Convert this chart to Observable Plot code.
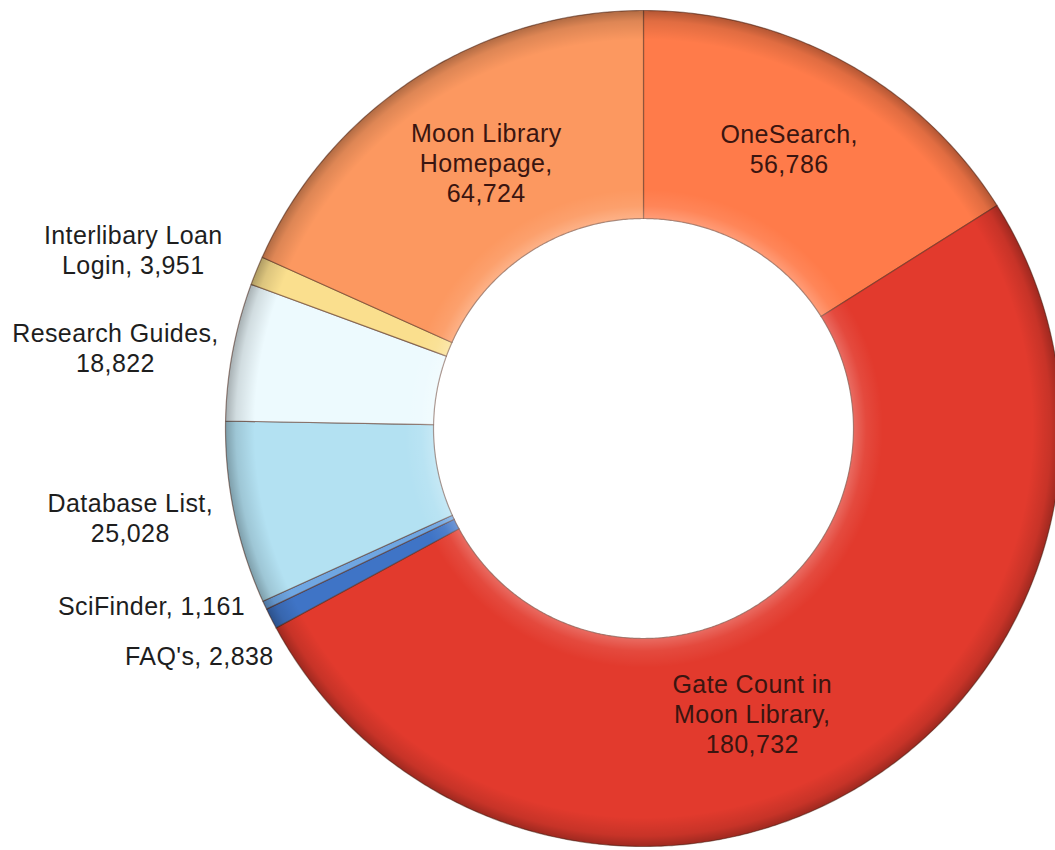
<!DOCTYPE html>
<html>
<head>
<meta charset="utf-8">
<script src="https://cdn.jsdelivr.net/npm/d3@7"></script>
<script src="https://cdn.jsdelivr.net/npm/@observablehq/plot@0.6"></script>
<style>
  html, body { margin: 0; padding: 0; background: #fff; overflow: hidden; }
  #chart svg { display: block; }
  #chart svg text { letter-spacing: 0.4px; }
</style>
</head>
<body>
<div id="chart"></div>
<script>
// ---- data (clockwise from 12 o'clock) ----
const names = ["OneSearch", "Gate Count in Moon Library", "FAQ's", "SciFinder", "Database List", "Research Guides", "Interlibary Loan Login", "Moon Library Homepage"];
const values = [56786, 180732, 2838, 1161, 25028, 18822, 3951, 64724];
const labelNames = ["OneSearch", "Gate Count in\nMoon Library", "FAQ's", "SciFinder", "Database List", "Research Guides", "Interlibary Loan\nLogin", "Moon Library\nHomepage"];
const labelSeparators = [",\n", ",\n", ", ", ", ", ",\n", ",\n", ", ", ",\n"];

// ---- styles / layout ----
const sliceColors = ["#FF7B4A", "#E23A2D", "#3F74C6", "#6FA6E2", "#B3E1F2", "#EDFAFE", "#FADF8E", "#FC9860"];
const W = 1055, H = 850;
const cx = 643, cy = 428;          // donut centre in pixels
const R = 418, r0 = 210;           // outer / inner radius in pixels
const labelRadius = [0.755, 0.73, 1.193, 1.251, 1.246, 1.278, 1.294, 0.739];
const labelAngleNudge = [-1.4, 9.5, 0, 5.2, 1.9, -1.9, -2.8, 2.3];
const insideLabel = [true, true, false, false, false, false, false, true];

// ---- geometry from data ----
const total = d3.sum(values);
let acc = 0;
const slices = names.map((name, i) => {
  const a0 = acc / total * 2 * Math.PI;
  acc += values[i];
  const a1 = acc / total * 2 * Math.PI;
  return {name, value: values[i], a0, a1, i};
});

const polar = (rad, ang) => [rad * Math.sin(ang), rad * Math.cos(ang)];
const ring = [];
for (const s of slices) {
  const n = Math.max(2, Math.ceil((s.a1 - s.a0) / (Math.PI / 360)));
  for (let k = 0; k <= n; k++) {
    const a = s.a0 + (s.a1 - s.a0) * k / n;
    const [x, y] = polar(R, a);
    ring.push({name: s.name, x, y});
  }
  for (let k = n; k >= 0; k--) {
    const a = s.a0 + (s.a1 - s.a0) * k / n;
    const [x, y] = polar(r0, a);
    ring.push({name: s.name, x, y});
  }
}

const labels = slices.map(s => {
  const mid = (s.a0 + s.a1) / 2 + labelAngleNudge[s.i] * Math.PI / 180;
  const [x, y] = polar(R * labelRadius[s.i], mid);
  return {
    x, y,
    inside: insideLabel[s.i],
    text: labelNames[s.i] + labelSeparators[s.i] + d3.format(",")(s.value)
  };
});

const font = "'Liberation Sans', Arial, sans-serif";

const chart = Plot.plot({
  width: W,
  height: H,
  margin: 0,
  x: {domain: [-cx, W - cx], axis: null},
  y: {domain: [cy - H, cy], axis: null},
  color: {domain: names, range: sliceColors},
  style: {fontFamily: font, background: "#fff"},
  marks: [
    Plot.line(ring, {x: "x", y: "y", z: "name", fill: "name", stroke: "#5a3020", strokeOpacity: 0.55, strokeWidth: 1.2, curve: "linear-closed", clip: true}),
    Plot.line(ring, {x: "x", y: "y", z: "name", fill: "url(#bevel)", stroke: "none", curve: "linear-closed", clip: true}),
    Plot.text(labels.filter(d => !d.inside), {x: "x", y: "y", text: "text", fontSize: 25, lineHeight: 1.2, fill: "#1e1e1e", textAnchor: "middle", lineAnchor: "middle"}),
    Plot.text(labels.filter(d => d.inside), {x: "x", y: "y", text: "text", fontSize: 25, lineHeight: 1.2, fill: "#3a1510", textAnchor: "middle", lineAnchor: "middle"})
  ]
});

// radial shading gradient, placed on the donut centre via the plot's scales
const px = chart.scale("x").apply(0), py = chart.scale("y").apply(0);
const defs = d3.select(chart).insert("defs", ":first-child");
const g = defs.append("radialGradient").attr("id", "bevel")
  .attr("gradientUnits", "userSpaceOnUse")
  .attr("cx", px).attr("cy", py).attr("r", R);
[[r0 / R, "#fff", 0.25], [r0 / R + 0.03, "#fff", 0.08], [r0 / R + 0.07, "#fff", 0],
 [0.93, "#000", 0], [0.975, "#000", 0.12], [1, "#000", 0.3]].forEach(([o, c, a]) =>
  g.append("stop").attr("offset", o).attr("stop-color", c).attr("stop-opacity", a));

document.getElementById("chart").append(chart);
</script>
</body>
</html>
